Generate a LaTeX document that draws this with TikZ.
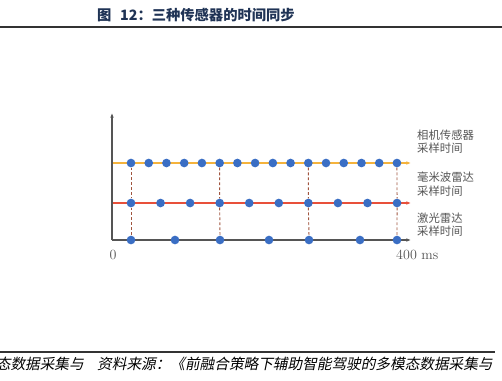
\documentclass[tikz,border=0pt]{standalone}
\usepackage{fontspec}
\newfontfamily\cjk{Noto Sans CJK SC}
\newfontfamily\cjkslant[FakeSlant=0.2]{Noto Sans CJK SC}
\usetikzlibrary{arrows.meta}
\definecolor{dotblue}{HTML}{3A6EC4}
\definecolor{camline}{HTML}{F5B33C}
\definecolor{radline}{HTML}{E8503A}
\definecolor{axisgray}{HTML}{555555}
\definecolor{syncbrown}{HTML}{A0553F}
\definecolor{titleblue}{HTML}{1F3355}

\begin{document}
\begin{tikzpicture}[
    x=0.03cm, y=-0.03cm,
    every node/.style={inner sep=0pt},
    sample/.style={circle, fill=dotblue, minimum size=0.26cm},
    track/.style={line width=1pt, -{Latex[length=1.4mm, width=1.1mm]}},
    sync/.style={syncbrown, line width=0.8pt, dash pattern=on 2.4pt off 1.8pt},
    tag/.style={font=\cjk\fontsize{9.7}{11.4}\selectfont, text=axisgray, align=left, anchor=west},
    rule/.style={line width=1pt, draw=black!80}
]
\useasboundingbox[fill=white] (0,0) rectangle (502,380);

% header and footer
\node[anchor=west, text=titleblue, font=\cjk\bfseries\fontsize{12.2}{14}\selectfont] (title) at (97,15) {图\hspace{0.6em}12：三种传感器的时间同步};
\coordinate (topl) at (0,27);
\coordinate (topr) at (502,27);
\draw[rule] (topl) -- (topr);
\coordinate (botl) at (0,352);
\coordinate (botr) at (495,352);
\draw[rule] (botl) -- (botr);
\node[anchor=east, font=\cjkslant\fontsize{12.5}{14}\selectfont] (srcleft) at (84,364) {态数据采集与};
\node[anchor=west, font=\cjkslant\fontsize{12.5}{14}\selectfont] (src) at (97,364) {资料来源：《前融合策略下辅助智能驾驶的多模态数据采集与};

% axes and sampling tracks
\coordinate (origin) at (112,240);
\coordinate (ytop) at (112,113);
\coordinate (xend) at (411,240);
\coordinate (camstart) at (112,163);
\coordinate (camend) at (411,163);
\coordinate (radstart) at (112,203);
\coordinate (radend) at (411,203);
\draw[track, camline] (camstart) -- (camend);
\draw[track, radline] (radstart) -- (radend);
\draw[track, axisgray, line width=1.1pt] (origin) -- (xend);
\draw[track, axisgray, line width=1.1pt] (origin) -- (ytop);

% samples
\foreach \i in {0,...,15}
    \node[sample] (c\i) at ({131+\i*17.73},163) {};
\foreach \i in {0,...,9}
    \node[sample] (r\i) at ({131+\i*29.56},203) {};
\foreach \x [count=\i from 0] in {131,175,220,269,309,360,397}
    \node[sample] (l\i) at (\x,240) {};

% synchronised instants
\foreach \c/\r/\l in {0/0/0, 5/3/2, 10/6/4, 15/9/6} {
    \draw[sync] (c\c.south) -- (r\r.north);
    \draw[sync] (r\r.south) -- (l\l.north);
}

\node[tag] (camtag) at (417,141.5) {相机传感器\\采样时间};
\node[tag] (radtag) at (417,184) {毫米波雷达\\采样时间};
\node[tag] (lidtag) at (417,224.5) {激光雷达\\采样时间};
\node[font=\fontsize{12}{14}\selectfont, text=axisgray] (zero) at (113,255) {0};
\node[anchor=west, font=\fontsize{12}{14}\selectfont, text=axisgray] (end) at (396,255) {400 ms};
\end{tikzpicture}
\end{document}
